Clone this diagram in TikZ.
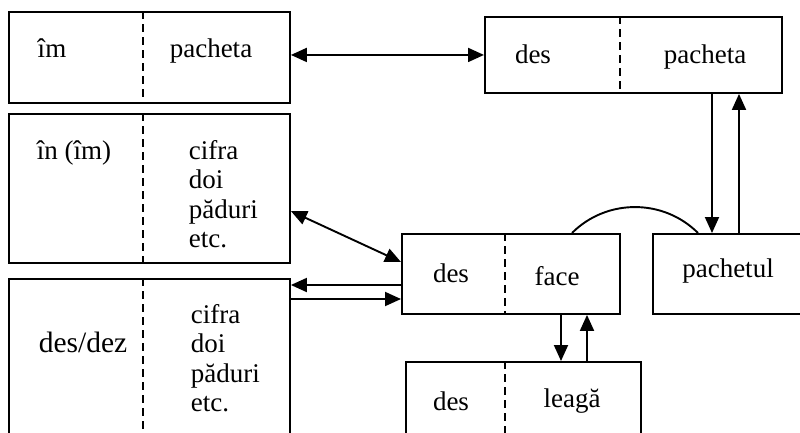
\documentclass[tikz,border=0pt]{standalone}
\usepackage{fontspec}
\setmainfont{Liberation Serif}
\usetikzlibrary{arrows.meta,calc}
\begin{document}
\begin{tikzpicture}[x=1pt,y=-1pt,
  line width=1.9pt,
  box/.style={draw,line width=1.9pt,rectangle,anchor=north west,inner sep=0pt},
  divider/.style={line width=1.9pt,dash pattern=on 8pt off 5pt},
  txt/.style={inner sep=0pt,anchor=base,font=\fontsize{27}{30}\selectfont},
  ltxt/.style={txt,anchor=base west},
  bigtxt/.style={txt,font=\fontsize{29.5}{33}\selectfont},
  arr/.style={-{Triangle[length=16pt,width=14pt]}},
  darr/.style={{Triangle[length=16pt,width=14pt]}-{Triangle[length=16pt,width=14pt]}}
]
\useasboundingbox (0,0) rectangle (800,432);
\clip (0,0) rectangle (800,432);
% boxes
\node[box,minimum width=281pt,minimum height=91pt] (b1) at (8,11) {};
\node[box,minimum width=281pt,minimum height=149pt] (b2) at (8,113) {};
\node[box,minimum width=281pt,minimum height=170pt] (b3) at (8,278) {};
\node[box,minimum width=297pt,minimum height=76pt] (b4) at (484,16) {};
\node[box,minimum width=218pt,minimum height=80pt] (face) at (401,233) {};
\node[box,minimum width=235pt,minimum height=90pt] (leaga) at (405,361) {};
\node[box,minimum width=170pt,minimum height=80pt] (pach) at (652,233) {};
% dividers
\draw[divider] ([xshift=135pt]b1.north west) -- ([xshift=135pt]b1.south west);
\draw[divider] ([xshift=135pt]b2.north west) -- ([xshift=135pt]b2.south west);
\draw[divider] ([xshift=135pt]b3.north west) -- ([xshift=135pt]b3.south west);
\draw[divider] ([xshift=136pt]b4.north west) -- ([xshift=136pt]b4.south west);
\draw[divider] ([xshift=104pt]face.north west) -- ([xshift=104pt]face.south west);
\draw[divider] ([xshift=100pt]leaga.north west) -- ([xshift=100pt]leaga.south west);
% texts
\node[txt] (t1a) at (52,57) {îm};
\node[txt] (t1b) at (211,57) {pacheta};
\node[txt] (t2a) at (74,159) {în (îm)};
\node[ltxt] (t2b) at (188,159) {cifra};
\node[ltxt] (t2c) at (188,188.5) {doi};
\node[ltxt] (t2d) at (188,218) {păduri};
\node[ltxt] (t2e) at (188,247.5) {etc.};
\node[bigtxt] (t3a) at (83,352) {des/dez};
\node[ltxt] (t3b) at (190,323) {cifra};
\node[ltxt] (t3c) at (190,352.5) {doi};
\node[ltxt] (t3d) at (190,382) {păduri};
\node[ltxt] (t3e) at (190,411.5) {etc.};
\node[txt] (t4a) at (533,63) {des};
\node[txt] (t4b) at (705,63) {pacheta};
\node[txt] (t5a) at (451,282) {des};
\node[txt] (t5b) at (557,285) {face};
\node[txt] (t6a) at (451,410) {des};
\node[txt] (t6b) at (572,407) {leagă};
\node[txt] (t7) at (728,277) {pachetul};
% connectors
\draw[darr] (b1.east |- b4.west) -- (b4.west);
\coordinate (c2) at ($(b2.north east)!0.65!(b2.south east)$);
\coordinate (f0) at ([yshift=-29pt]face.north west);
\draw[darr] (c2) -- (f0);
\coordinate (f1) at ([yshift=-52pt]face.north west);
\coordinate (f2) at ([yshift=-66pt]face.north west);
\draw[arr] (f1) -- (b3.east |- f1);
\draw[arr] (b3.east |- f2) -- (f2);
\coordinate (fd) at ([xshift=160pt]face.south west);
\coordinate (fu) at ([xshift=186pt]face.south west);
\draw[arr] (fd) -- (leaga.north -| fd);
\draw[arr] (leaga.north -| fu) -- (fu);
\coordinate (pd) at ([xshift=228pt]b4.south west);
\coordinate (pu) at ([xshift=255pt]b4.south west);
\draw[arr] (pd) -- (pach.north -| pd);
\draw[arr] (pach.north -| pu) -- (pu);
\coordinate (a1) at ([xshift=171pt]face.north west);
\coordinate (a2) at ([xshift=46pt]pach.north west);
\draw (a1) .. controls +(34.6,-34.6) and +(-34.6,-34.6) .. (a2);
\end{tikzpicture}
\end{document}
